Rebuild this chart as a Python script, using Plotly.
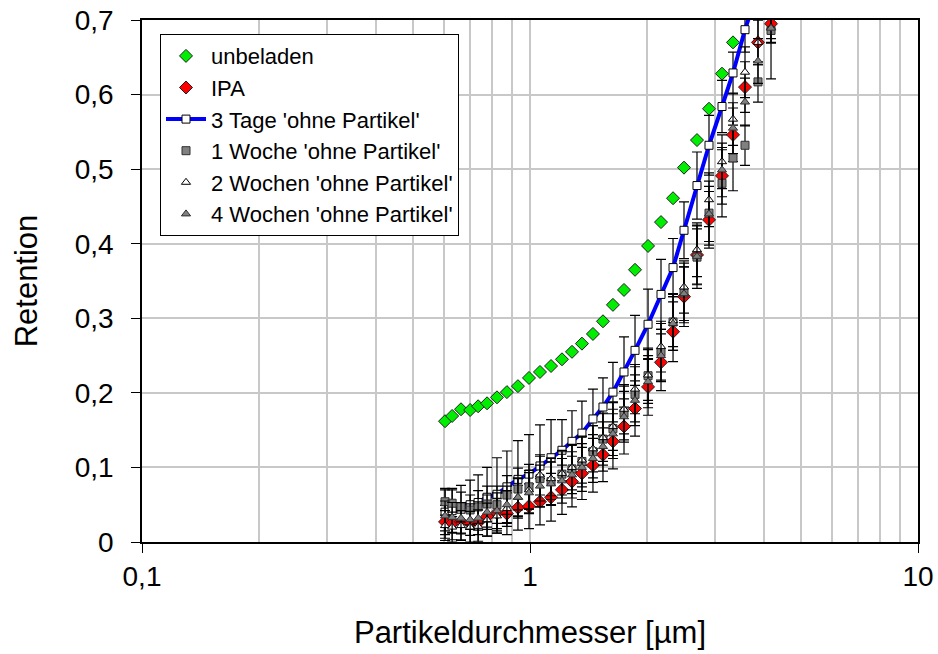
import plotly.graph_objects as go

# particle diameter channels [µm]
x_um = [0.604, 0.630, 0.664, 0.701, 0.735, 0.775, 0.822, 0.872, 0.931, 0.994,
        1.061, 1.133, 1.209, 1.283, 1.361, 1.453, 1.542, 1.636, 1.747, 1.865,
        2.015, 2.176, 2.337, 2.494, 2.694, 2.893, 3.125, 3.336, 3.582, 3.869, 4.180]

unbeladen = [0.162, 0.169, 0.178, 0.177, 0.182, 0.186, 0.194, 0.201, 0.209, 0.220,
             0.228, 0.236, 0.245, 0.255, 0.266, 0.279, 0.296, 0.318, 0.338, 0.365,
             0.397, 0.429, 0.461, 0.502, 0.539, 0.581, 0.628, 0.670]

ipa = [0.027, 0.025, 0.027, 0.025, 0.026, 0.034, 0.039, 0.038, 0.046, 0.048,
       0.054, 0.060, 0.070, 0.081, 0.092, 0.103, 0.117, 0.135, 0.155, 0.179,
       0.208, 0.241, 0.282, 0.329, 0.385, 0.432, 0.491, 0.546, 0.610, 0.670, 0.695]
ipa_err = [0.022, 0.022, 0.024, 0.025, 0.025, 0.026, 0.027, 0.028, 0.030, 0.030,
           0.031, 0.032, 0.033, 0.034, 0.035, 0.036, 0.036, 0.037, 0.037, 0.037,
           0.038, 0.038, 0.040, 0.040, 0.040, 0.038, 0.038, 0.036, 0.034, 0.030, 0.020]

tage3 = [0.040, 0.042, 0.044, 0.050, 0.053, 0.060, 0.064, 0.074, 0.084, 0.091,
         0.102, 0.113, 0.123, 0.135, 0.146, 0.165, 0.181, 0.201, 0.228, 0.257,
         0.292, 0.332, 0.368, 0.418, 0.478, 0.532, 0.584, 0.629, 0.687, 0.740]
tage3_err = [0.030, 0.030, 0.032, 0.033, 0.037, 0.040, 0.049, 0.048, 0.052, 0.053,
             0.055, 0.051, 0.041, 0.041, 0.043, 0.040, 0.039, 0.040, 0.047, 0.047,
             0.047, 0.047, 0.039, 0.038, 0.045, 0.040, 0.035, 0.028, 0.030, 0.030]

woche1 = [0.054, 0.052, 0.047, 0.043, 0.047, 0.051, 0.050, 0.063, 0.071, 0.074,
          0.085, 0.081, 0.091, 0.098, 0.108, 0.121, 0.138, 0.152, 0.173, 0.198,
          0.223, 0.255, 0.295, 0.334, 0.382, 0.441, 0.481, 0.515, 0.532, 0.617, 0.686]
woche1_err = [0.018, 0.018, 0.020, 0.020, 0.022, 0.024, 0.025, 0.026, 0.028, 0.030,
              0.030, 0.031, 0.032, 0.033, 0.034, 0.035, 0.035, 0.036, 0.036, 0.037,
              0.037, 0.038, 0.038, 0.040, 0.042, 0.043, 0.045, 0.044, 0.027, 0.027, 0.065]

wochen2 = [0.022, 0.020, 0.022, 0.020, 0.021, 0.030, 0.035, 0.045, 0.060, 0.070,
           0.090, 0.085, 0.092, 0.100, 0.110, 0.125, 0.140, 0.155, 0.178, 0.205,
           0.224, 0.262, 0.297, 0.342, 0.392, 0.459, 0.510, 0.567, 0.630, 0.670, 0.690]
wochen2_err = [0.020, 0.020, 0.020, 0.021, 0.022, 0.022, 0.023, 0.024, 0.025, 0.026,
               0.027, 0.028, 0.029, 0.030, 0.031, 0.031, 0.032, 0.032, 0.033, 0.033,
               0.034, 0.034, 0.035, 0.035, 0.036, 0.036, 0.036, 0.035, 0.034, 0.030, 0.020]

wochen4 = [0.035, 0.033, 0.032, 0.030, 0.032, 0.040, 0.042, 0.050, 0.060, 0.066,
           0.075, 0.078, 0.082, 0.090, 0.100, 0.112, 0.128, 0.145, 0.168, 0.190,
           0.215, 0.250, 0.293, 0.333, 0.383, 0.440, 0.499, 0.555, 0.590, 0.645, 0.689]
wochen4_err = [0.020, 0.020, 0.021, 0.021, 0.022, 0.023, 0.024, 0.025, 0.026, 0.027,
               0.028, 0.029, 0.030, 0.031, 0.032, 0.032, 0.033, 0.033, 0.034, 0.034,
               0.035, 0.035, 0.036, 0.036, 0.037, 0.037, 0.036, 0.034, 0.032, 0.030, 0.020]

names = ["unbeladen", "IPA", "3 Tage 'ohne Partikel'", "1 Woche 'ohne Partikel'",
         "2 Wochen 'ohne Partikel'", "4 Wochen 'ohne Partikel'"]

x_tickvals = [0.1, 1, 10]
x_ticktext = ["0,1", "1", "10"]
x_minor = [0.2, 0.3, 0.4, 0.5, 0.6, 0.7, 0.8, 0.9, 2, 3, 4, 5, 6, 7, 8, 9]
y_tickvals = [0, 0.1, 0.2, 0.3, 0.4, 0.5, 0.6, 0.7]

FONT = "Arial, 'Liberation Sans', sans-serif"
OUT = dict(color="#202020", width=1)

def ebar(arr):
    return dict(type="data", array=arr, visible=True, color="black", thickness=1.2, width=5)

fig = go.Figure()
fig.add_trace(go.Scatter(x=x_um[:len(unbeladen)], y=unbeladen, mode="markers", name=names[0],
                         marker=dict(symbol="diamond", size=10, color="#00EE00", line=OUT)))
fig.add_trace(go.Scatter(x=x_um[:len(ipa)], y=ipa, mode="markers", name=names[1],
                         error_y=ebar(ipa_err),
                         marker=dict(symbol="diamond", size=10, color="#FF0000", line=OUT)))
fig.add_trace(go.Scatter(x=x_um[:len(tage3)], y=tage3, mode="lines+markers", name=names[2],
                         error_y=ebar(tage3_err),
                         line=dict(color="#0000FF", width=4),
                         marker=dict(symbol="square", size=8, color="white", line=dict(color="black", width=1))))
fig.add_trace(go.Scatter(x=x_um[:len(woche1)], y=woche1, mode="markers", name=names[3],
                         error_y=ebar(woche1_err),
                         marker=dict(symbol="square", size=8, color="#808080", line=dict(color="#303030", width=1))))
fig.add_trace(go.Scatter(x=x_um[:len(wochen2)], y=wochen2, mode="markers", name=names[4],
                         error_y=ebar(wochen2_err),
                         marker=dict(symbol="triangle-up", size=8, color="white", line=dict(color="black", width=1))))
fig.add_trace(go.Scatter(x=x_um[:len(wochen4)], y=wochen4, mode="markers", name=names[5],
                         error_y=ebar(wochen4_err),
                         marker=dict(symbol="triangle-up", size=8, color="#808080", line=dict(color="#303030", width=1))))

fig.update_layout(
    width=938, height=654,
    margin=dict(l=142, r=20, t=20, b=112),
    paper_bgcolor="white", plot_bgcolor="white",
    separators=", ",
    font=dict(family=FONT, color="black", size=22),
    showlegend=True,
    legend=dict(x=0.0232, y=0.973, xanchor="left", yanchor="top",
                bgcolor="white", bordercolor="black", borderwidth=1,
                font=dict(family=FONT, size=22, color="black"),
                traceorder="normal", itemwidth=40),
)
fig.update_xaxes(
    type="log", range=[-1, 1], automargin=False,
    tickvals=x_tickvals, ticktext=x_ticktext,
    ticks="outside", ticklen=9, tickcolor="black", tickwidth=1,
    showgrid=True, gridcolor="#C8C8C8", gridwidth=1.5,
    minor=dict(tickvals=x_minor, showgrid=True, gridcolor="#C8C8C8", gridwidth=1.5, ticks=""),
    showline=True, linecolor="black", linewidth=1.5, mirror=True,
    tickfont=dict(size=28), zeroline=False, ticklabelstandoff=0,
    title=dict(text="Partikeldurchmesser [µm]", font=dict(size=31), standoff=30),
)
fig.update_yaxes(
    range=[0, 0.7], tickvals=y_tickvals, automargin=False,
    ticks="outside", ticklen=9, tickcolor="black", tickwidth=1,
    showgrid=True, gridcolor="#C8C8C8", gridwidth=1.5,
    showline=True, linecolor="black", linewidth=1.5, mirror=True,
    tickfont=dict(size=28), zeroline=False, ticklabelstandoff=12,
    title=dict(text="Retention", font=dict(size=31), standoff=28),
)

fig.write_html("out.html")
